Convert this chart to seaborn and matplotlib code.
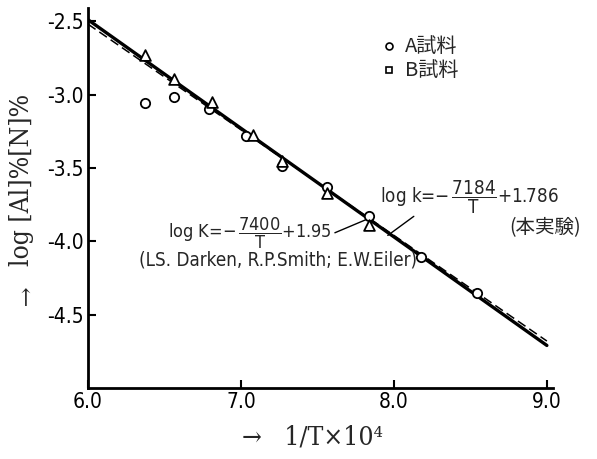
import matplotlib
matplotlib.use("Agg")
import matplotlib.pyplot as plt
import seaborn as sns
import pandas as pd

# ---- data ----
a_x = [6.37, 6.56, 6.79, 7.03, 7.27, 7.56, 7.84, 8.18, 8.54]
a_y = [-3.06, -3.02, -3.10, -3.28, -3.49, -3.63, -3.83, -4.11, -4.35]
b_x = [6.37, 6.56, 6.81, 7.08, 7.27, 7.56, 7.84]
b_y = [-2.73, -2.895, -3.05, -3.275, -3.45, -3.67, -3.89]

# Darken et al. line (solid) and this study (dashed): endpoints
line_x = [6.0, 9.0]
darken_y = [-2.49, -4.71]
study_y = [-2.52, -4.68]

x_ticks = [6.0, 7.0, 8.0, 9.0]
y_ticks = [-2.5, -3.0, -3.5, -4.0, -4.5]

sns.set_style("ticks")
plt.rcParams['font.family'] = ['DejaVu Sans', 'Noto Sans CJK JP']
plt.rcParams['font.stretch'] = 'condensed'
plt.rcParams['mathtext.fontset'] = 'dejavusans'

fig = plt.figure(figsize=(5.97, 4.59), dpi=100)
ax = fig.add_axes([88/597, 1-388/459, (553-88)/597, (388-8)/459])

df_a = pd.DataFrame({"x": a_x, "y": a_y})
df_b = pd.DataFrame({"x": b_x, "y": b_y})
df_l1 = pd.DataFrame({"x": line_x, "y": darken_y})
df_l2 = pd.DataFrame({"x": line_x, "y": study_y})

sns.lineplot(data=df_l2, x="x", y="y", ax=ax, color="black", lw=1.1,
             linestyle=(0, (6, 3)), zorder=2)
sns.lineplot(data=df_l1, x="x", y="y", ax=ax, color="black", lw=2.4, zorder=3)
sns.scatterplot(data=df_a, x="x", y="y", ax=ax, marker="o", s=45,
                facecolor="white", edgecolor="black", linewidth=1.3, zorder=4)
sns.scatterplot(data=df_b, x="x", y="y", ax=ax, marker="^", s=60,
                facecolor="white", edgecolor="black", linewidth=1.3, zorder=4)

ax.set_xlim(6.0, 9.04)
ax.set_ylim(-5.0, -2.41)
ax.set_xticks(x_ticks)
ax.set_xticklabels([f"{v:.1f}" for v in x_ticks])
ax.set_yticks(y_ticks)
ax.set_yticklabels([f"{v:.1f}" for v in y_ticks])
ax.tick_params(direction="in", length=6, width=1.5, labelsize=15, pad=3,
               labelcolor="black", color="black")
for s in ["top", "right"]:
    ax.spines[s].set_visible(False)
for s in ["left", "bottom"]:
    ax.spines[s].set_linewidth(2)
    ax.spines[s].set_color("black")
ax.set_xlabel("")
ax.set_ylabel("")

# legend as in the figure
ax.plot([7.967], [-2.67], marker="o", ms=5, mfc="white", mec="black", mew=1.2)
ax.plot([7.967], [-2.833], marker="s", ms=5, mfc="white", mec="black", mew=1.2)
ax.text(8.07, -2.67, "A試料", fontsize=14.5, va="center", ha="left",
        family=['Noto Sans CJK JP'])
ax.text(8.07, -2.833, "B試料", fontsize=14.5, va="center", ha="left",
        family=['Noto Sans CJK JP'])

# equation annotations
ax.text(6.52, -3.945, r"log K=$-\,\dfrac{7400}{\mathrm{T}}$+1.95", fontsize=13,
        va="center", ha="left")
ax.text(7.24, -4.125, "(LS. Darken, R.P.Smith; E.W.Eiler)", fontsize=13.5,
        va="center", ha="center")
ax.plot([7.614, 7.83], [-3.942, -3.847], color="black", lw=1)
ax.text(7.91, -3.70, r"log k=$-\,\dfrac{7184}{\mathrm{T}}$+1.786", fontsize=13.5,
        va="center", ha="left")
ax.text(8.99, -3.905, "(本実験)", fontsize=14, va="center", ha="center",
        family=['Noto Sans CJK JP'])
ax.plot([7.96, 8.13], [-3.96, -3.83], color="black", lw=1)

# axis labels
fig.text(22/597, 1-180/459, "log [Al]%[N]%", rotation=90, fontsize=19,
         ha="center", va="center", family=['DejaVu Serif'])
fig.text(25/597, 1-300/459, "↑", fontsize=17, ha="center", va="center",
         family=['DejaVu Serif'])
fig.text(313/597, 1-437/459, "→   1/T×10⁴", fontsize=19, ha="center",
         va="center", family=['DejaVu Serif'])

fig.savefig("out.png", dpi=100)
